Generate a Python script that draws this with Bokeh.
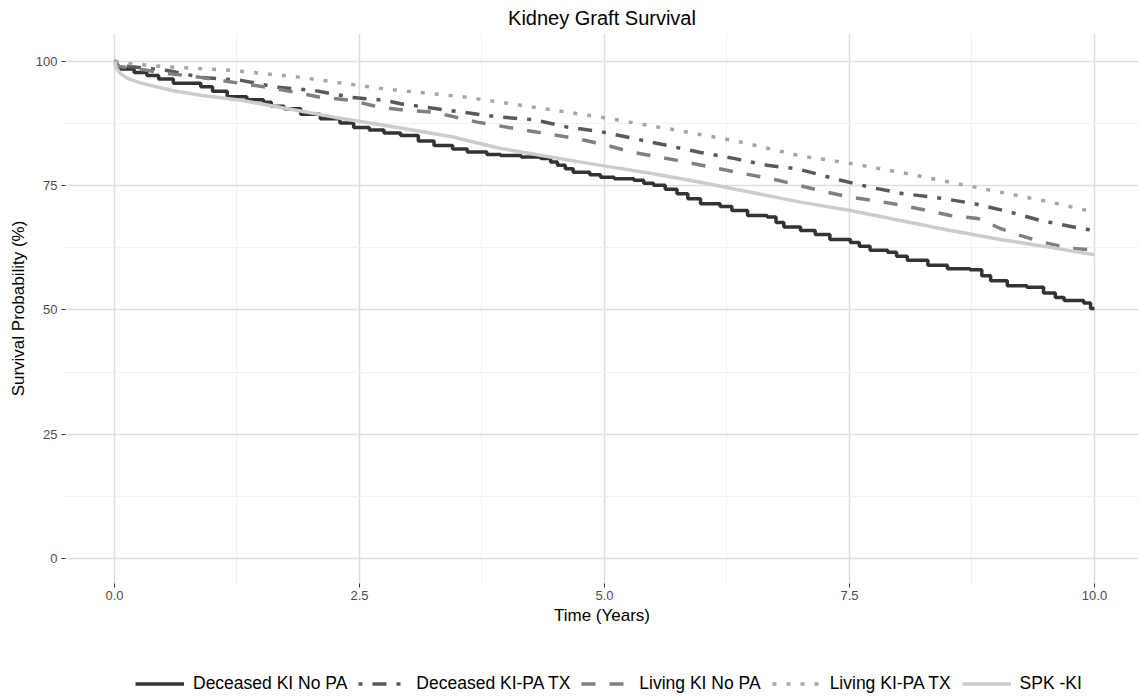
from bokeh.plotting import figure
from bokeh.layouts import column
from bokeh.models import FixedTicker, Legend, LegendItem
from bokeh.embed import file_html
from bokeh.resources import INLINE

FONT = "Liberation Sans"

# ---------------- data ----------------
series_names = ["Deceased KI No PA", "Deceased KI-PA TX", "Living KI No PA",
                "Living KI-PA TX", "SPK -KI"]

dec_no_t = [0, 0.02, 0.06, 0.2, 0.33, 0.45, 0.6, 0.88, 1.0, 1.15, 1.35, 1.52, 1.6,
            1.73, 1.9, 2.1, 2.3, 2.44, 2.6, 2.75, 2.92, 3.1, 3.26, 3.45, 3.6, 3.8,
            3.94, 4.15, 4.35, 4.45, 4.52, 4.6, 4.68, 4.85, 4.96, 5.1, 5.3, 5.4, 5.5,
            5.62, 5.74, 5.85, 5.98, 6.18, 6.3, 6.46, 6.66, 6.75, 6.83, 7.0, 7.15,
            7.3, 7.51, 7.6, 7.71, 7.89, 7.98, 8.09, 8.3, 8.5, 8.73, 8.85, 8.94,
            9.11, 9.31, 9.48, 9.6, 9.69, 9.89, 9.96, 10.0]
dec_no_s = [100, 98.8, 98.5, 97.8, 97.2, 96.5, 95.6, 94.9, 94.0, 92.9, 92.3, 91.8,
            91.0, 90.5, 89.4, 88.5, 87.6, 86.7, 86.2, 85.6, 85.1, 84.0, 83.1, 82.4,
            81.8, 81.3, 81.1, 80.8, 80.5, 79.8, 79.1, 78.4, 77.7, 77.2, 76.7, 76.4,
            76.1, 75.5, 75.1, 74.3, 73.4, 72.4, 71.4, 70.8, 70.0, 69.0, 68.7, 67.6,
            66.7, 66.0, 65.2, 64.2, 63.6, 62.8, 62.0, 61.6, 60.8, 60.0, 59.0, 58.3,
            58.1, 56.9, 55.9, 54.9, 54.6, 53.4, 52.5, 51.9, 51.4, 50.3, 50.3]

dec_pa_t = [0, 0.05, 0.2, 0.54, 0.88, 1.29, 1.66, 2.03, 2.41, 2.75, 2.92, 3.43,
            3.94, 4.28, 4.62, 4.96, 5.3, 5.64, 5.98, 6.32, 6.66, 6.97, 7.2, 7.41,
            7.71, 8.05, 8.43, 8.77, 9.14, 9.45, 9.86, 10.0]
dec_pa_s = [100, 99.2, 98.9, 98.2, 96.8, 96.2, 94.8, 94.2, 92.8, 92.2, 91.5, 90.1,
            88.8, 88.3, 86.8, 85.9, 84.5, 83.1, 81.7, 80.5, 79.1, 78.4, 77.2, 76.1,
            74.7, 73.4, 72.5, 71.4, 69.7, 68.0, 66.4, 66.0]

liv_no_t = [0, 0.05, 0.2, 0.54, 0.88, 1.08, 1.63, 2.1, 2.41, 2.68, 2.92, 3.26,
            3.7, 4.21, 4.72, 5.03, 5.27, 5.74, 6.25, 6.77, 7.0, 7.27, 7.51, 7.79,
            8.05, 8.3, 8.53, 8.81, 9.04, 9.24, 9.48, 9.76, 9.89, 10.0]
liv_no_s = [100, 99.0, 98.6, 97.6, 96.8, 96.2, 94.6, 92.8, 92.2, 90.9, 90.3, 89.8,
            87.8, 86.1, 84.5, 83.1, 81.8, 80.1, 78.1, 76.1, 75.0, 73.7, 72.7, 71.9,
            71.0, 70.0, 69.0, 68.4, 66.4, 65.0, 63.6, 62.4, 62.2, 62.2]

liv_pa_t = [0, 0.13, 0.54, 1.21, 1.9, 2.75, 3.6, 4.28, 4.62, 4.96, 5.64, 6.32,
            7.0, 7.51, 8.02, 8.53, 9.04, 9.55, 9.93, 10.0]
liv_pa_s = [100, 99.6, 98.9, 98.2, 96.8, 94.5, 92.8, 90.8, 89.8, 88.8, 86.5, 84.1,
            81.0, 79.5, 77.7, 75.7, 73.7, 71.7, 70.0, 70.0]

spk_t = [0, 0.02, 0.06, 0.13, 0.25, 0.37, 0.6, 0.88, 1.29, 1.77, 2.24, 2.92, 3.43,
         3.94, 4.45, 4.96, 5.47, 5.98, 6.49, 7.0, 7.51, 8.02, 8.53, 9.04, 9.55,
         10.0]
spk_s = [100, 98.6, 97.6, 96.6, 95.8, 95.2, 94.1, 93.2, 92.2, 90.5, 88.8, 86.6,
         84.9, 82.5, 80.8, 79.1, 77.5, 75.7, 73.7, 71.7, 70.0, 68.0, 66.0, 64.2,
         62.6, 61.1]

x_ticks = [0, 2.5, 5, 7.5, 10]
x_minor = [1.25, 3.75, 6.25, 8.75]
x_tick_labels = {0: "0.0", 2.5: "2.5", 5: "5.0", 7.5: "7.5", 10: "10.0"}
y_ticks = [0, 25, 50, 75, 100]
y_minor = [12.5, 37.5, 62.5, 87.5]
y_tick_labels = {0: "0", 25: "25", 50: "50", 75: "75", 100: "100"}

title_text = "Kidney Graft Survival"
x_title = "Time (Years)"
y_title = "Survival Probability (%)"

series = [(dec_no_t, dec_no_s), (dec_pa_t, dec_pa_s), (liv_no_t, liv_no_s),
          (liv_pa_t, liv_pa_s), (spk_t, spk_s)]
colors = ["#333333", "#595959", "#808080", "#A6A6A6", "#CCCCCC"]
dashes = ["solid", "4 10 14 10", "14 14", "4 10", "solid"]
LW = 3.5


def draw(fig):
    rs = []
    for i, (t, s) in enumerate(series):
        if i == 0:
            r = fig.step(t, s, mode="after", line_color=colors[i], line_width=LW,
                         line_dash=dashes[i])
        else:
            r = fig.line(t, s, line_color=colors[i], line_width=LW,
                         line_dash=dashes[i])
        rs.append(r)
    return rs


# ---------------- main figure ----------------
p = figure(width=1138, height=658, output_backend="svg", toolbar_location=None,
           x_range=(-0.5, 10.449), y_range=(-5.03, 105.63),
           min_border_left=65, min_border_right=0, min_border_top=33,
           min_border_bottom=75, background_fill_color="white",
           border_fill_color="white", outline_line_color=None,
           title=title_text)

p.title.align = "center"
p.title.text_font = FONT
p.title.text_font_size = "20px"
p.title.text_font_style = "normal"
p.title.text_color = "black"
p.title.standoff = 9

for ax, ticks, minor, labels in ((p.xaxis[0], x_ticks, x_minor, x_tick_labels),
                                 (p.yaxis[0], y_ticks, y_minor, y_tick_labels)):
    ax.ticker = FixedTicker(ticks=ticks, minor_ticks=minor)
    ax.major_label_overrides = labels
    ax.axis_line_color = None
    ax.major_tick_in = 0
    ax.major_tick_out = 4
    ax.major_tick_line_color = "#333333"
    ax.minor_tick_line_color = None
    ax.major_label_text_font = FONT
    ax.major_label_text_font_size = "13px"
    ax.major_label_text_color = "#4D4D4D"
    ax.major_label_standoff = 4
    ax.axis_label_text_font = FONT
    ax.axis_label_text_font_size = "17px"
    ax.axis_label_text_font_style = "normal"
    ax.axis_label_text_color = "black"

p.yaxis.axis_label = y_title
p.yaxis.axis_label_standoff = 5
p.xaxis.axis_label = x_title
p.xaxis.axis_label_standoff = 3
p.xaxis.major_label_standoff = 3

for g in (p.xgrid[0], p.ygrid[0]):
    g.grid_line_color = "#DEDEDE"
    g.grid_line_width = 1.5
    g.minor_grid_line_color = "#F1F1F1"
    g.minor_grid_line_width = 1

draw(p)

# ---------------- legend strip (same series, drawn off-view) ----------------
lf = figure(width=1138, height=40, output_backend="svg", toolbar_location=None,
            x_axis_type=None, y_axis_type=None, x_range=(0, 1), y_range=(500, 501),
            min_border=0, outline_line_color=None, background_fill_color="white",
            border_fill_color="white")
lf.grid.visible = False
lrs = draw(lf)

legend = Legend(items=[LegendItem(label=n, renderers=[r])
                       for n, r in zip(series_names, lrs)],
                orientation="horizontal", location=(70, 4),
                glyph_width=49, glyph_height=17, label_height=17,
                label_standoff=9, spacing=11, padding=0, margin=0,
                label_text_font=FONT, label_text_font_size="17.5px",
                label_text_color="black", border_line_color=None,
                background_fill_alpha=0)
lf.add_layout(legend, "center")

layout = column(p, lf, spacing=0)
open("out.html", "w").write(file_html(layout, INLINE))
